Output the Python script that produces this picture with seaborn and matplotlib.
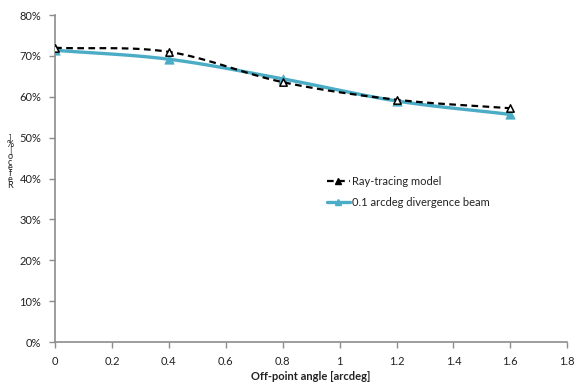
import numpy as np
import pandas as pd
import matplotlib
matplotlib.use("Agg")
import matplotlib.pyplot as plt
import seaborn as sns
from matplotlib.lines import Line2D

angles = [0.0, 0.4, 0.8, 1.2, 1.6]
ray_tracing = [72.0, 71.0, 63.6, 59.3, 57.2]
divergence = [71.4, 69.2, 64.4, 59.0, 55.7]
series_names = ["Ray-tracing model", "0.1 arcdeg divergence beam"]
x_ticks = [0, 0.2, 0.4, 0.6, 0.8, 1, 1.2, 1.4, 1.6, 1.8]
x_tick_labels = ["0", "0.2", "0.4", "0.6", "0.8", "1", "1.2", "1.4", "1.6", "1.8"]
y_ticks = [0, 10, 20, 30, 40, 50, 60, 70, 80]
y_tick_labels = [f"{v}%" for v in y_ticks]
x_label = "Off-point angle [arcdeg]"
y_label_chars = ["]", "%", "[", "o", "c", "e", "f", "e", "R"]

sns.set_theme(style="white")
plt.rcParams['font.family'] = ['Lato', 'DejaVu Sans']

def smooth(x, y, n=30):
    # Catmull-Rom style smoothing for line rendering (Excel "smoothed line")
    x = np.asarray(x, float); y = np.asarray(y, float)
    px = np.concatenate([[2*x[0]-x[1]], x, [2*x[-1]-x[-2]]])
    py = np.concatenate([[2*y[0]-y[1]], y, [2*y[-1]-y[-2]]])
    xs, ys = [], []
    for i in range(1, len(px)-2):
        t = np.linspace(0, 1, n, endpoint=False)
        for arr, out in ((px, xs), (py, ys)):
            p0, p1, p2, p3 = arr[i-1], arr[i], arr[i+1], arr[i+2]
            out.extend(0.5*((2*p1) + (-p0+p2)*t + (2*p0-5*p1+4*p2-p3)*t**2 + (-p0+3*p1-3*p2+p3)*t**3))
    xs.append(x[-1]); ys.append(y[-1])
    return np.array(xs), np.array(ys)

fig = plt.figure(figsize=(5.8, 3.87), dpi=100)
ax = fig.add_axes([0.095, 0.116, 0.883, 0.845])

blue = "#4BACC6"
sx, sy = smooth(angles, divergence)
sns.lineplot(x=sx, y=sy, ax=ax, color=blue, lw=2.4, sort=False, estimator=None)
sns.scatterplot(x=angles, y=divergence, ax=ax, color=blue, marker="^", s=45, edgecolor=blue, zorder=4)
sx, sy = smooth(angles, ray_tracing)
ax.plot(sx, sy, color="black", lw=1.6, ls=(0, (3, 2)), zorder=5)
sns.scatterplot(x=angles, y=ray_tracing, ax=ax, color="white", marker="^", s=28, edgecolor="black", linewidth=1.1, zorder=6)

ax.set_xlim(0, 1.8)
ax.set_ylim(0, 80)
ax.set_xticks(x_ticks)
ax.set_xticklabels(x_tick_labels)
ax.set_yticks(y_ticks)
ax.set_yticklabels(y_tick_labels)
for s in ["top", "right"]:
    ax.spines[s].set_visible(False)
for s in ["left", "bottom"]:
    ax.spines[s].set_color("#8c8c8c")
    ax.spines[s].set_linewidth(1.2)
ax.tick_params(axis="both", which="both", direction="out", length=4, width=1, color="#8c8c8c",
               labelsize=8, labelcolor="#222222", left=True, bottom=True, pad=6)
ax.set_xlabel(x_label, fontsize=8, fontweight="bold", color="#222222", labelpad=3)

fig.text(10/580, 1 - 162/387, "\n".join(y_label_chars), fontsize=6.5, linespacing=0.55,
         ha="center", va="center", color="#222222")

handles = [
    Line2D([0], [0], color="black", lw=1.6, ls=(0, (3, 2)), marker="^", markersize=5,
           markerfacecolor="black", markeredgecolor="black"),
    Line2D([0], [0], color=blue, lw=2.4, marker="^", markersize=5, markerfacecolor=blue, markeredgecolor=blue),
]
ax.legend(handles, series_names, loc="upper left", bbox_to_anchor=(0.512, 0.538), frameon=False,
          fontsize=8, handlelength=2.0, handletextpad=0.2, labelspacing=0.9, labelcolor="#222222")

fig.savefig("out.png", dpi=100)
